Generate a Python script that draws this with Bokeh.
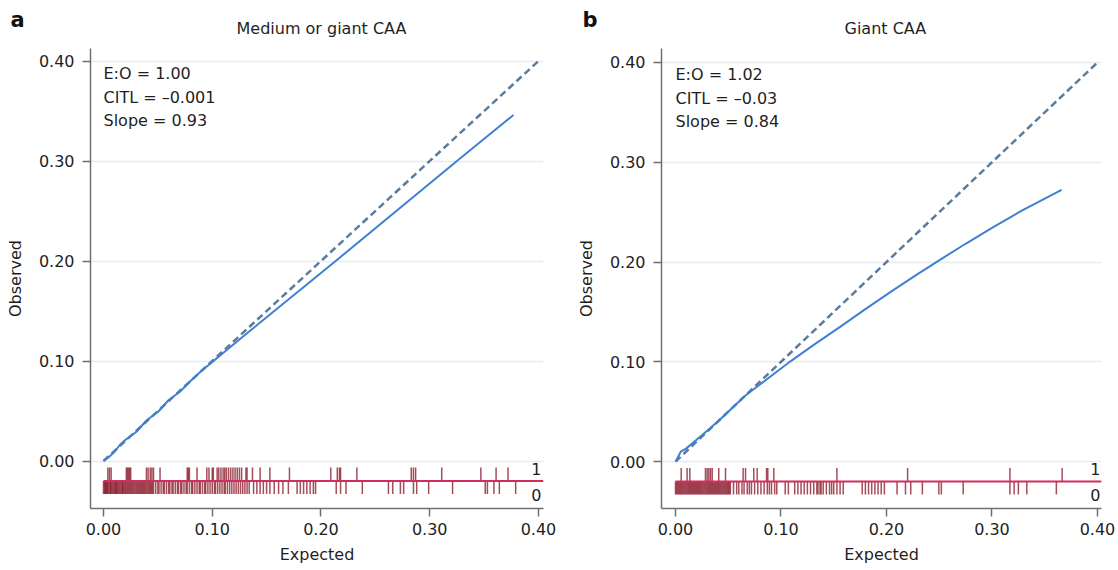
from bokeh.plotting import figure
from bokeh.layouts import row
from bokeh.models import Range1d, FixedTicker, PrintfTickFormatter, Label, Title
from bokeh.embed import file_html
from bokeh.resources import INLINE

# ---------------- data ----------------
ticks = [0.0, 0.1, 0.2, 0.3, 0.4]
diag = [0.0, 0.40]

# Panel a : Medium or giant CAA
a_title = "Medium or giant CAA"
a_stats = ["E:O = 1.00", "CITL = \u20130.001", "Slope = 0.93"]
a_exp = [0.000, 0.005, 0.010, 0.015, 0.020, 0.030, 0.040, 0.050, 0.060, 0.070,
         0.080, 0.090, 0.100, 0.130, 0.2135, 0.325, 0.377]
a_obs = [0.000, 0.004, 0.009, 0.016, 0.021, 0.029, 0.041, 0.049, 0.061, 0.069,
         0.080, 0.090, 0.099, 0.126, 0.200, 0.300, 0.346]
a_events1 = [0.004, 0.0055, 0.007, 0.021, 0.022, 0.023, 0.024, 0.025, 0.0395, 0.041,
             0.043, 0.0445, 0.046, 0.052, 0.077, 0.078, 0.079, 0.086, 0.095, 0.097,
             0.100, 0.101, 0.1045, 0.106, 0.108, 0.110, 0.1115, 0.113, 0.115, 0.117,
             0.119, 0.121, 0.123, 0.125, 0.127, 0.131, 0.132, 0.137, 0.144, 0.153,
             0.171, 0.209, 0.215, 0.217, 0.218, 0.233, 0.283, 0.285, 0.287, 0.311,
             0.347, 0.361, 0.372]
a_events0 = [0.000, 0.001, 0.0015, 0.002, 0.003, 0.0035, 0.004, 0.005, 0.006, 0.0065,
             0.007, 0.008, 0.009, 0.010, 0.011, 0.0115, 0.012, 0.013, 0.014, 0.015,
             0.016, 0.017, 0.0175, 0.018, 0.019, 0.020, 0.021, 0.022, 0.023, 0.024,
             0.025, 0.026, 0.027, 0.028, 0.029, 0.030, 0.031, 0.032, 0.033, 0.034,
             0.035, 0.036, 0.037, 0.038, 0.039, 0.040, 0.041, 0.042, 0.043, 0.044,
             0.045, 0.046, 0.048, 0.050, 0.051, 0.053, 0.055, 0.056, 0.058, 0.060,
             0.061, 0.063, 0.064, 0.066, 0.068, 0.069, 0.071, 0.072, 0.074, 0.076,
             0.077, 0.079, 0.081, 0.082, 0.084, 0.086, 0.088, 0.089, 0.091, 0.093,
             0.094, 0.096, 0.098, 0.100, 0.102, 0.103, 0.105, 0.107, 0.109, 0.111,
             0.112, 0.114, 0.116, 0.118, 0.120, 0.122, 0.124, 0.126, 0.128, 0.130,
             0.132, 0.134, 0.138, 0.141, 0.144, 0.147, 0.150, 0.153, 0.157, 0.161,
             0.165, 0.170, 0.178, 0.181, 0.184, 0.187, 0.190, 0.193, 0.195, 0.214,
             0.218, 0.223, 0.238, 0.262, 0.266, 0.273, 0.276, 0.285, 0.288, 0.299,
             0.321, 0.351, 0.353, 0.359, 0.364, 0.379]

# Panel b : Giant CAA
b_title = "Giant CAA"
b_stats = ["E:O = 1.02", "CITL = \u20130.03", "Slope = 0.84"]
b_exp = [0.000, 0.002, 0.005, 0.010, 0.020, 0.030, 0.043, 0.055, 0.066, 0.080,
         0.095, 0.109, 0.130, 0.156, 0.180, 0.205, 0.228, 0.248, 0.275, 0.300,
         0.330, 0.366]
b_obs = [0.000, 0.004, 0.010, 0.013, 0.022, 0.031, 0.043, 0.055, 0.066, 0.0772,
         0.0893, 0.1005, 0.1162, 0.1350, 0.1528, 0.1708, 0.1869, 0.2005, 0.2183, 0.2343,
         0.2526, 0.2724]
b_events1 = [0.0054, 0.011, 0.0136, 0.0284, 0.030, 0.0316, 0.0332, 0.0348, 0.041, 0.0474,
             0.0641, 0.0664, 0.0742, 0.0774, 0.0863, 0.0875, 0.0932, 0.153, 0.220, 0.317,
             0.3665]
b_events0 = [0.000, 0.001, 0.002, 0.003, 0.004, 0.005, 0.006, 0.007, 0.008, 0.009,
             0.010, 0.011, 0.012, 0.013, 0.014, 0.015, 0.016, 0.017, 0.018, 0.019,
             0.020, 0.021, 0.022, 0.023, 0.024, 0.025, 0.026, 0.027, 0.028, 0.029,
             0.030, 0.031, 0.032, 0.033, 0.034, 0.035, 0.036, 0.037, 0.038, 0.039,
             0.040, 0.041, 0.042, 0.043, 0.044, 0.045, 0.046, 0.047, 0.048, 0.049,
             0.050, 0.051, 0.052, 0.055, 0.058, 0.060, 0.063, 0.065, 0.068, 0.070,
             0.072, 0.075, 0.078, 0.081, 0.084, 0.087, 0.089, 0.091, 0.094, 0.096,
             0.104, 0.107, 0.113, 0.116, 0.119, 0.122, 0.125, 0.128, 0.131, 0.134,
             0.135, 0.137, 0.138, 0.140, 0.143, 0.146, 0.148, 0.150, 0.153, 0.156,
             0.159, 0.177, 0.180, 0.183, 0.186, 0.189, 0.192, 0.195, 0.198, 0.210,
             0.218, 0.223, 0.234, 0.2496, 0.252, 0.2727, 0.317, 0.321, 0.325, 0.333,
             0.361]

# ---------------- style ----------------
FONT = "DejaVu Sans"
TXT = "#1f1f1f"
AXC = "#6f6f6f"
GRID = "#e4ecee"
DIAG = "#5b7c9d"
FIT = "#3f80d2"
RUG = "#8a1c2c"
REDL = "#d42c5c"

H = 570
RUG1 = (-0.0065, -0.020)
RUG0 = (-0.020, -0.033)


def panel(letter, title, stats, xs, ys, ev1, ev0, width, left, right, xr, yr,
          title_off, letter_off):
    p = figure(width=width, height=H, x_range=Range1d(*xr), y_range=Range1d(*yr),
               output_backend="svg", toolbar_location=None,
               min_border_left=left, min_border_right=right,
               min_border_top=48, min_border_bottom=62)
    p.outline_line_color = None
    p.background_fill_color = "white"
    p.border_fill_color = "white"
    p.xgrid.visible = False
    p.ygrid.ticker = FixedTicker(ticks=ticks)
    p.ygrid.grid_line_color = GRID
    p.ygrid.grid_line_width = 1.5

    for ax in (p.xaxis[0], p.yaxis[0]):
        ax.ticker = FixedTicker(ticks=ticks)
        ax.formatter = PrintfTickFormatter(format="%.2f")
        ax.axis_line_color = AXC
        ax.axis_line_width = 1.5
        ax.major_tick_line_color = AXC
        ax.major_tick_line_width = 1.5
        ax.major_tick_out = 8
        ax.major_tick_in = 0
        ax.minor_tick_line_color = None
        ax.major_label_text_font = FONT
        ax.major_label_text_font_size = "16px"
        ax.major_label_text_color = TXT
        ax.axis_label_text_font = FONT
        ax.axis_label_text_font_size = "16px"
        ax.axis_label_text_font_style = "normal"
        ax.axis_label_text_color = TXT
    p.xaxis[0].axis_label = "Expected"
    p.yaxis[0].axis_label = "Observed"
    p.yaxis[0].major_label_standoff = 8
    p.xaxis[0].major_label_standoff = 6
    p.yaxis[0].axis_label_standoff = 11
    p.xaxis[0].axis_label_standoff = 7

    # rug plot
    p.segment(x0=ev1, x1=ev1, y0=[RUG1[0]] * len(ev1), y1=[RUG1[1]] * len(ev1),
              line_color=RUG, line_width=1.5, line_alpha=0.78)
    p.segment(x0=ev0, x1=ev0, y0=[RUG0[0]] * len(ev0), y1=[RUG0[1]] * len(ev0),
              line_color=RUG, line_width=1.5, line_alpha=0.78)
    p.segment(x0=[0.0], x1=[xr[1]], y0=[-0.020], y1=[-0.020],
              line_color=REDL, line_width=2)

    # reference diagonal and calibration curve
    p.line(diag, diag, line_color=DIAG, line_width=2.5, line_dash="7 4")
    p.line(xs, ys, line_color=FIT, line_width=2)

    def lab(x, y, text, align="left"):
        p.add_layout(Label(x=x, y=y, text=text, text_align=align,
                           text_baseline="middle", text_font=FONT,
                           text_font_size="16px", text_color=TXT))

    # rug labels
    lab(0.398, -0.0075, "1", align="center")
    lab(0.398, -0.0335, "0", align="center")
    # stats text
    for i, s in enumerate(stats):
        lab(0.0, 0.3875 - 0.0235 * i, s)

    # panel title (next to frame) and panel letter (outer)
    p.add_layout(Title(text=title, align="left", offset=title_off, standoff=21,
                       text_font=FONT, text_font_size="16px",
                       text_font_style="normal", text_color=TXT), "above")
    p.title = Title(text=letter, align="left", offset=letter_off, standoff=-51,
                    text_font=FONT, text_font_size="21px",
                    text_font_style="bold", text_color="#111111")
    return p


pa = panel("a", a_title, a_stats, a_exp, a_obs, a_events1, a_events0,
           563, 90, 20, (-0.01195, 0.4046), (-0.0475, 0.4125), 146, -80)
pb = panel("b", b_title, b_stats, b_exp, b_obs, b_events1, b_events0,
           555, 98, 17, (-0.01327, 0.4038), (-0.0470, 0.4140), 183, -79)

layout = row(pa, pb)
open("out.html", "w").write(file_html(layout, INLINE))
